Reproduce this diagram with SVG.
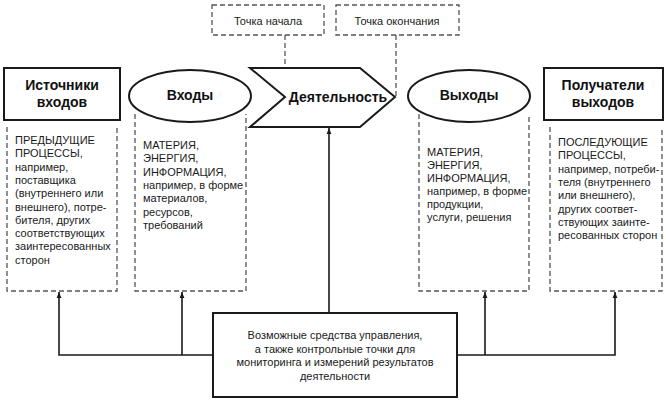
<svg xmlns="http://www.w3.org/2000/svg" width="666" height="403" viewBox="0 0 666 403">
<defs>
<style>
.solid{fill:#fff;stroke:#1a1a1a;stroke-width:2}
.dash{fill:none;stroke:#555;stroke-width:1.3;stroke-dasharray:5,3}
.line{fill:none;stroke:#1a1a1a;stroke-width:1.6}
.t{font-family:"Liberation Sans",Arial,sans-serif;font-size:11px;fill:#1a1a1a}
.b{font-family:"Liberation Sans",Arial,sans-serif;font-size:14px;font-weight:bold;fill:#111}
.c{text-anchor:middle}
</style>
<marker id="arr" viewBox="0 0 10 10" refX="10" refY="5" markerWidth="6" markerHeight="6" orient="auto" markerUnits="userSpaceOnUse">
<path d="M0,1 L10,5 L0,9 Z" fill="#1a1a1a"/>
</marker>
</defs>
<rect width="666" height="403" fill="#fff"/>

<g id="connectors">
<path class="dash" d="M285,35 V97"/>
<path class="dash" d="M396,35 V97"/>
<path class="line" d="M329,313 V128" marker-end="url(#arr)"/>
<path class="line" d="M213,355 H59 V292" marker-end="url(#arr)"/>
<path class="line" d="M182,355 V292" marker-end="url(#arr)"/>
<path class="line" d="M457,355 H615 V292" marker-end="url(#arr)"/>
<path class="line" d="M485,355 V292" marker-end="url(#arr)"/>
</g>

<g id="start-point">
<rect class="dash" x="212" y="5" width="112" height="30"/>
<text class="t c" x="268" y="25">Точка начала</text>
</g>
<g id="end-point">
<rect class="dash" x="336" y="5" width="123" height="30"/>
<text class="t c" x="397" y="25">Точка окончания</text>
</g>

<g id="sources">
<rect class="solid" x="4" y="68" width="116" height="52"/>
<text class="b c" x="62" y="90">Источники</text>
<text class="b c" x="62" y="107">входов</text>
</g>
<g id="sources-desc">
<path class="dash" d="M7,127 V291 H117 V127"/>
<text class="t" x="15" y="144">ПРЕДЫДУЩИЕ</text>
<text class="t" x="15" y="157.3">ПРОЦЕССЫ,</text>
<text class="t" x="15" y="170.6">например,</text>
<text class="t" x="15" y="183.9">поставщика</text>
<text class="t" x="15" y="197.2">(внутреннего или</text>
<text class="t" x="15" y="210.5">внешнего), потре-</text>
<text class="t" x="15" y="223.8">бителя, других</text>
<text class="t" x="15" y="237.1">соответствующих</text>
<text class="t" x="15" y="250.4">заинтересованных</text>
<text class="t" x="15" y="263.7">сторон</text>
</g>

<g id="inputs">
<ellipse class="solid" cx="190" cy="96" rx="61" ry="26"/>
<text class="b c" x="190" y="100">Входы</text>
</g>
<g id="inputs-desc">
<path class="dash" d="M135,114 V291 H246 V114"/>
<text class="t" x="143" y="149">МАТЕРИЯ,</text>
<text class="t" x="143" y="162.3">ЭНЕРГИЯ,</text>
<text class="t" x="143" y="175.6">ИНФОРМАЦИЯ,</text>
<text class="t" x="143" y="188.9">например, в форме</text>
<text class="t" x="143" y="202.2">материалов,</text>
<text class="t" x="143" y="215.5">ресурсов,</text>
<text class="t" x="143" y="228.8">требований</text>
</g>

<g id="activity">
<path class="solid" d="M250,68 H360 L395,97 L360,127 H250 L285,97 Z"/>
<text class="b c" x="338" y="102">Деятельность</text>
</g>

<g id="outputs">
<ellipse class="solid" cx="469" cy="96" rx="61" ry="26"/>
<text class="b c" x="469" y="100">Выходы</text>
</g>
<g id="outputs-desc">
<path class="dash" d="M419,114 V291 H529 V114"/>
<text class="t" x="427" y="156">МАТЕРИЯ,</text>
<text class="t" x="427" y="169">ЭНЕРГИЯ,</text>
<text class="t" x="427" y="182">ИНФОРМАЦИЯ,</text>
<text class="t" x="427" y="195">например, в форме</text>
<text class="t" x="427" y="208">продукции,</text>
<text class="t" x="427" y="221">услуги, решения</text>
</g>

<g id="receivers">
<rect class="solid" x="544" y="68" width="119" height="52"/>
<text class="b c" x="603" y="90">Получатели</text>
<text class="b c" x="603" y="107">выходов</text>
</g>
<g id="receivers-desc">
<path class="dash" d="M550,127 V291 H662 V127"/>
<text class="t" x="558" y="146">ПОСЛЕДУЮЩИЕ</text>
<text class="t" x="558" y="159.3">ПРОЦЕССЫ,</text>
<text class="t" x="558" y="172.6">например, потреби-</text>
<text class="t" x="558" y="185.9">теля (внутреннего</text>
<text class="t" x="558" y="199.2">или внешнего),</text>
<text class="t" x="558" y="212.5">других соответ-</text>
<text class="t" x="558" y="225.8">ствующих заинте-</text>
<text class="t" x="558" y="239.1">ресованных сторон</text>
</g>

<g id="controls">
<rect class="solid" x="213" y="313" width="244" height="84"/>
<text class="t c" x="335" y="339">Возможные средства управления,</text>
<text class="t c" x="335" y="352.5">а также контрольные точки для</text>
<text class="t c" x="335" y="366">мониторинга и измерений результатов</text>
<text class="t c" x="335" y="379.5">деятельности</text>
</g>
</svg>
